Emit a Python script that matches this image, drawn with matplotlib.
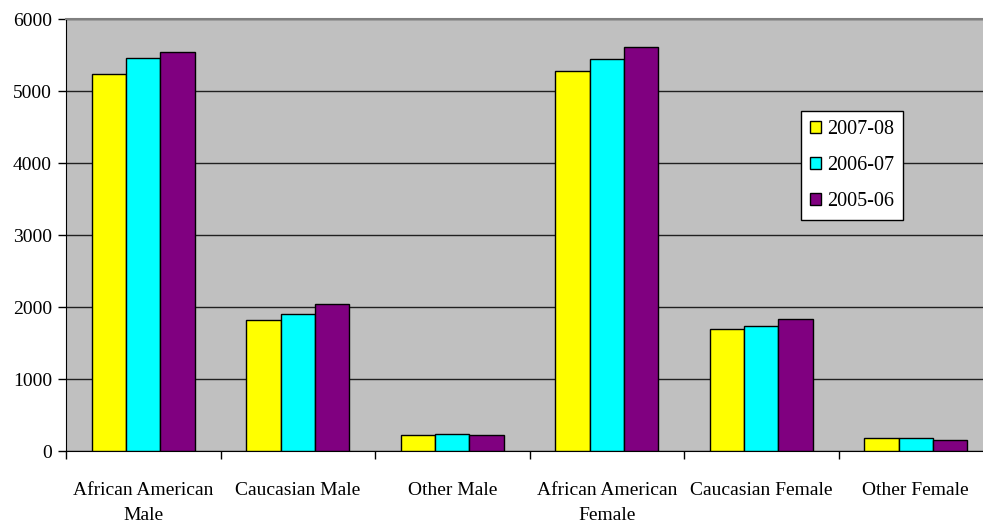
import numpy as np
import matplotlib.pyplot as plt

plt.rcParams['font.family'] = ['Liberation Serif', 'DejaVu Serif']

grupos = ['African American\nMale', 'Caucasian Male', 'Other Male',
          'African American\nFemale', 'Caucasian Female', 'Other Female']
periodos = ['2007-08', '2006-07', '2005-06']
v_2007_08 = [5236, 1818, 222, 5272, 1693, 176]
v_2006_07 = [5458, 1897, 241, 5438, 1734, 176]
v_2005_06 = [5535, 2040, 222, 5605, 1837, 158]
colores = ['#FFFF00', '#00FFFF', '#800080']

fig = plt.figure(figsize=(9.83, 5.29), dpi=100)
# el area de trazado sigue un poco mas alla del borde derecho
ax = fig.add_axes([66 / 983, 78 / 529, 927 / 983, 432 / 529])
ax.set_facecolor('#C0C0C0')

x = np.arange(len(grupos))
ancho = 1 / 4.5
series = [v_2007_08, v_2006_07, v_2005_06]
for i, (valores, color, etiqueta) in enumerate(zip(series, colores, periodos)):
    ax.bar(x + (i - 1) * ancho, valores, width=ancho, color=color,
           edgecolor='black', linewidth=1.0, label=etiqueta, zorder=3)

ax.set_xlim(-0.5, len(grupos) - 0.5)
ax.set_ylim(0, 6000)
ax.set_yticks(range(0, 6001, 1000))
ax.yaxis.grid(True, color='#202020', linewidth=1.0, zorder=1)

# marcas del eje x entre categorias
ax.set_xticks(np.arange(len(grupos) + 1) - 0.5, minor=False)
ax.set_xticklabels([])
ax.set_xticks(x, minor=True)
ax.set_xticklabels(grupos, minor=True, fontsize=14, linespacing=1.65)
ax.tick_params(axis='x', which='minor', length=0, pad=22)
ax.tick_params(axis='x', which='major', length=6, direction='out', width=1)
ax.tick_params(axis='y', length=6, direction='out', width=1, labelsize=14, pad=4)

ax.spines['right'].set_visible(False)
ax.spines['top'].set_color('#808080')
ax.spines['top'].set_linewidth(1.5)
ax.spines['left'].set_color('black')
ax.spines['bottom'].set_color('black')

leg = ax.legend(loc='upper left', bbox_to_anchor=(734.7 / 927, (451 - 111) / 432),
                fontsize=14.5, frameon=True, fancybox=False, edgecolor='black',
                handlelength=0.55, handleheight=0.55, handletextpad=0.3,
                labelspacing=0.85, borderpad=0.45, borderaxespad=0)
leg.get_frame().set_linewidth(1.0)
leg.get_frame().set_facecolor('white')
leg.get_frame().set_alpha(1)
leg.set_zorder(5)

fig.savefig('out.png', dpi=100)
